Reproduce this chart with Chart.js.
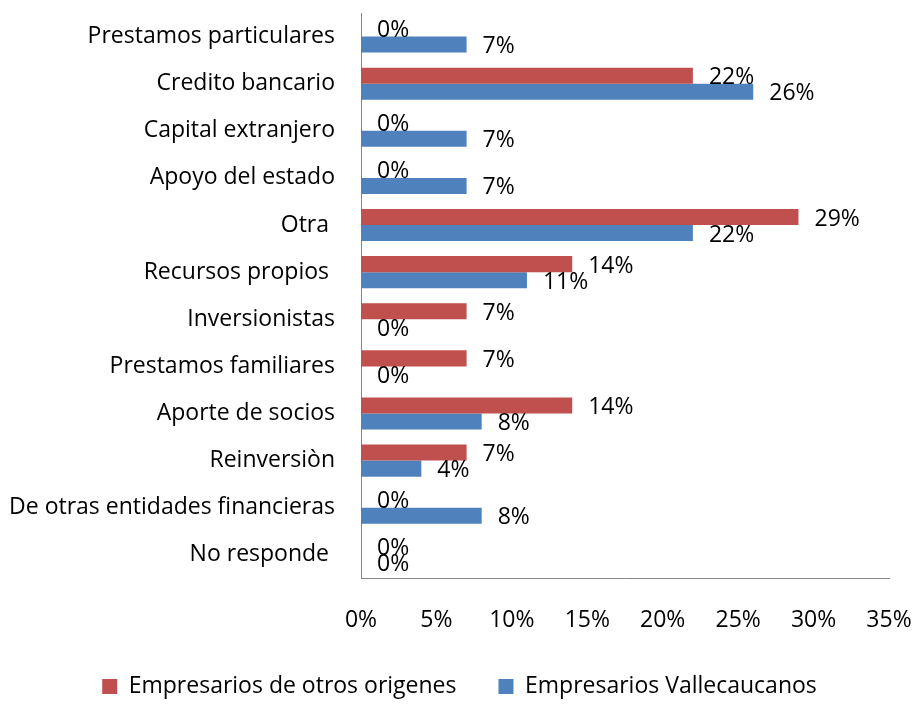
<!DOCTYPE html>
<html>
<head>
<meta charset="utf-8">
<script src="https://cdn.jsdelivr.net/npm/chart.js@4.4.1/dist/chart.umd.min.js"></script>
<style>
  html, body { margin: 0; padding: 0; background: #fff; }
  #wrap { width: 914px; height: 708px; }
</style>
</head>
<body>
<div id="wrap"><canvas id="fuentesChart" width="914" height="708"></canvas></div>
<script>
const categorias = [
  'Prestamos particulares',
  'Credito bancario',
  'Capital extranjero',
  'Apoyo del estado',
  'Otra ',
  'Recursos propios ',
  'Inversionistas',
  'Prestamos familiares',
  'Aporte de socios',
  'Reinversiòn',
  'De otras entidades financieras',
  'No responde '
];

// porcentajes por fuente de financiación
const otrosOrigenes = [0, 22, 0, 0, 29, 14, 7, 7, 14, 7, 0, 0];
const vallecaucanos = [7, 26, 7, 7, 22, 11, 0, 0, 8, 4, 8, 0];

const rojo = '#c0504d';
const azul = '#4f81bd';
const fuente = '"Open Sans", "Liberation Sans", sans-serif';
const tamano = 23;

// etiquetas de valor al final de cada barra
const etiquetasBarras = {
  id: 'etiquetasBarras',
  afterDatasetsDraw(chart) {
    const ctx = chart.ctx;
    ctx.save();
    ctx.font = tamano + 'px ' + fuente;
    ctx.fillStyle = '#000';
    ctx.textBaseline = 'middle';
    ctx.textAlign = 'left';
    chart.data.datasets.forEach((ds, i) => {
      chart.getDatasetMeta(i).data.forEach((bar, j) => {
        ctx.fillText(ds.data[j] + '%', bar.x + 16, bar.y + 2);
      });
    });
    ctx.restore();
  }
};

new Chart(document.getElementById('fuentesChart'), {
  type: 'bar',
  data: {
    labels: categorias,
    datasets: [
      {
        label: 'Empresarios de otros origenes',
        data: otrosOrigenes,
        backgroundColor: rojo
      },
      {
        label: 'Empresarios Vallecaucanos',
        data: vallecaucanos,
        backgroundColor: azul
      }
    ]
  },
  options: {
    indexAxis: 'y',
    responsive: false,
    animation: false,
    layout: { padding: { top: 13, left: 8, right: 3, bottom: 0 } },
    datasets: {
      bar: { barPercentage: 1, categoryPercentage: 0.68 }
    },
    scales: {
      x: {
        min: 0,
        max: 35,
        ticks: {
          stepSize: 5,
          padding: 20,
          color: '#000',
          font: { family: fuente, size: tamano },
          callback: v => v + '%'
        },
        grid: { display: false },
        border: { display: true, color: '#868686', width: 1 },
        // las etiquetas del eje pueden invadir la franja de la leyenda
        afterFit(scale) {
          scale.height -= 21;
          scale.paddingLeft = 0;
          scale.paddingRight = 25;
        }
      },
      y: {
        ticks: {
          padding: 18,
          color: '#000',
          font: { family: fuente, size: tamano }
        },
        grid: { display: false },
        border: { display: true, color: '#868686', width: 1 },
        afterFit(scale) {
          scale.width = 353;
          scale.paddingTop = 0;
          scale.paddingBottom = 0;
        }
      }
    },
    plugins: {
      legend: {
        position: 'bottom',
        labels: {
          color: '#000',
          font: { family: fuente, size: tamano },
          boxWidth: 15,
          boxHeight: 15,
          padding: 42
        }
      },
      tooltip: { enabled: false }
    }
  },
  plugins: [etiquetasBarras]
});
</script>
</body>
</html>
